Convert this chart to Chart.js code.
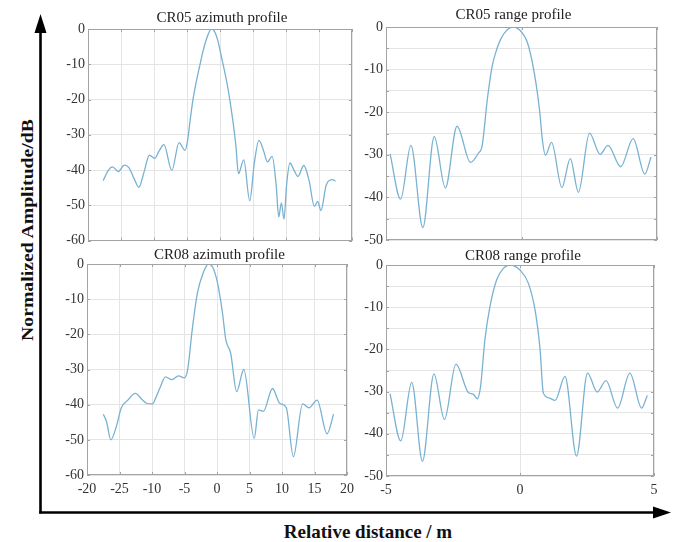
<!DOCTYPE html>
<html><head><meta charset="utf-8">
<script src="https://cdn.jsdelivr.net/npm/chart.js@4"></script>
<style>
html,body{margin:0;padding:0;background:#fff}
body{width:674px;height:542px;position:relative;overflow:hidden;font-family:"Liberation Serif","Times New Roman",serif}
canvas{position:absolute}
svg{position:absolute;left:0;top:0}
.lbl{position:absolute;font-weight:bold;color:#111;white-space:nowrap;line-height:1}
</style></head><body>
<svg width="674" height="542">
  <line x1="40.5" y1="30" x2="40.5" y2="513.5" stroke="#000" stroke-width="2.6"/>
  <polygon points="40.5,14 34.5,33 46.5,33" fill="#000"/>
  <line x1="39.2" y1="512.5" x2="656" y2="512.5" stroke="#000" stroke-width="2.6"/>
  <polygon points="671,512.5 653,506.5 653,518.5" fill="#000"/>
</svg>
<div class="lbl" id="ylab" style="font-size:17px;left:27px;top:230px;transform:translate(-50%,-50%) rotate(-90deg) scaleX(1.16);">Normalized Amplitude/dB</div>
<div class="lbl" id="xlab" style="font-size:19px;left:368px;top:531px;transform:translate(-50%,-50%);">Relative distance / m</div>
<canvas id="c1" width="316" height="252" style="left:44px;top:0px"></canvas>
<canvas id="c2" width="310" height="252" style="left:356px;top:0px"></canvas>
<canvas id="c3" width="316" height="256" style="left:44px;top:244px"></canvas>
<canvas id="c4" width="310" height="256" style="left:356px;top:244px"></canvas>
<script>
// ---- data ----
const titles = ["CR05 azimuth profile", "CR05 range profile", "CR08 azimuth profile", "CR08 range profile"];
const azTickLabels = ["-20", "-25", "-10", "-5", "0", "5", "10", "15", "20"];
const rgTickLabels = ["-5", "0", "5"];

const cr05AzX = [-17.7,-16.9,-16.3,-15.4,-14.5,-13.8,-13.0,-12.3,-11.5,-10.7,-9.9,-9.2,-8.5,-7.3,-6.2,-5.3,-4.9,-4.5,-4.1,-3.6,-3.1,-2.6,-2.1,-1.3,-0.8,-0.3,0.2,0.7,1.2,1.6,2.0,2.4,2.8,3.6,4.5,5.2,5.9,6.6,7.2,7.9,8.5,8.9,9.3,9.7,10.1,10.6,11.2,11.8,12.7,13.5,14.3,14.8,15.3,16.1,17.1,17.5];
const cr05AzY = [-43.0,-40.0,-39.1,-40.4,-38.6,-39.3,-42.5,-44.9,-40.5,-35.8,-36.7,-34.5,-32.8,-40.1,-32.2,-34.4,-31.5,-25.5,-20.1,-15.0,-10.7,-6.5,-3.1,0,-0.8,-3.5,-7.8,-12.0,-16.8,-21.5,-26.7,-33.0,-41.0,-37.1,-48.7,-38.0,-31.6,-34.5,-37.7,-36.1,-44.0,-53.3,-49.3,-53.9,-44.0,-38.0,-40.0,-41.8,-38.7,-43.0,-50.3,-48.9,-51.5,-44.2,-42.7,-43.2];

const cr05RgX = [-4.85,-4.46,-4.08,-3.64,-3.22,-2.81,-2.38,-1.88,-1.6,-1.45,-1.26,-1.08,-0.9,-0.77,-0.55,-0.33,-0.09,0.22,0.47,0.66,0.78,0.88,1.11,1.49,1.8,2.1,2.51,2.9,3.19,3.66,4.12,4.55,4.78];
const cr05RgY = [-29.8,-40.4,-27.8,-47.1,-25.7,-37.8,-23.3,-31.8,-29.7,-27.8,-16.9,-9.1,-5.0,-2.9,-0.8,0,-0.6,-3.7,-10.7,-19.2,-27.0,-30.1,-27.1,-37.7,-30.9,-38.8,-24.9,-29.9,-27.8,-32.8,-26.2,-34.5,-30.5];

const cr08AzX = [-17.49,-17.0,-16.33,-15.5,-14.72,-13.72,-12.56,-11.46,-10.85,-9.95,-9.4,-8.7,-7.94,-6.93,-5.93,-5.02,-4.52,-3.82,-3.02,-2.16,-1.31,-0.65,0.1,0.85,1.36,2.11,3.02,4.12,5.73,6.38,7.14,8.54,9.65,10.65,11.75,13.17,14.17,15.4,16.93,17.94];
const cr08AzY = [-42.7,-44.8,-50.0,-46.3,-40.9,-38.7,-36.8,-38.7,-39.6,-39.8,-38.0,-34.9,-32.1,-32.9,-31.8,-32.4,-30.1,-18.8,-8.3,-2.7,0,-0.9,-5.5,-14.0,-21.6,-25.4,-36.3,-30.0,-49.6,-41.5,-41.9,-35.4,-39.6,-40.8,-54.8,-39.8,-40.9,-38.7,-48.3,-42.7];

const cr08RgX = [-4.85,-4.45,-4.04,-3.64,-3.21,-2.82,-2.39,-1.93,-1.75,-1.59,-1.47,-1.31,-1.12,-0.87,-0.62,-0.37,0,0.31,0.56,0.75,0.87,1.09,1.31,1.68,2.11,2.52,2.88,3.21,3.64,4.1,4.54,4.75];
const cr08RgY = [-30.5,-41.7,-27.8,-46.5,-25.8,-36.6,-23.5,-30.2,-30.6,-31.7,-28.7,-17.7,-9.8,-3.5,-0.8,0,-1.2,-4.3,-10.6,-20.1,-30.3,-31.5,-32.1,-26.4,-45.3,-25.6,-30.1,-27.4,-33.9,-25.6,-33.9,-30.9];

// ---- styling ----
const LINE = '#78b2d2';
const GRID = '#e4e4e4';
const FRAME = '#a3a3a3';
const TXT = '#333';
const FONT = '"Liberation Serif","Times New Roman",serif';

const framePlugin = {
  id: 'frame',
  afterDraw(chart, args, o) {
    const {ctx, chartArea: a} = chart;
    const xs = chart.scales.x, ys = chart.scales.y;
    ctx.save();
    ctx.strokeStyle = FRAME; ctx.lineWidth = 1;
    ctx.beginPath();
    xs.ticks.forEach(t => {
      const p = Math.round(xs.getPixelForValue(t.value)) + 0.5;
      ctx.moveTo(p, a.bottom); ctx.lineTo(p, a.bottom - 3);
      ctx.moveTo(p, a.top); ctx.lineTo(p, a.top + 3);
    });
    ys.ticks.forEach(t => {
      const p = Math.round(ys.getPixelForValue(t.value)) + 0.5;
      ctx.moveTo(a.left, p); ctx.lineTo(a.left + 3, p);
      ctx.moveTo(a.right, p); ctx.lineTo(a.right - 3, p);
    });
    ctx.stroke();
    ctx.strokeRect(Math.round(a.left) + 0.5, Math.round(a.top) + 0.5, Math.round(a.right - a.left) - 1, Math.round(a.bottom - a.top) - 1);
    ctx.fillStyle = '#222';
    ctx.font = '15px ' + FONT;
    ctx.textAlign = 'center'; ctx.textBaseline = 'middle';
    ctx.fillText(o.text, (a.left + a.right) / 2 + o.dx, o.y);
    ctx.restore();
  }
};

function makeChart(id, xs, ys, c) {
  const data = xs.map((x, i) => ({x: x, y: ys[i]}));
  new Chart(document.getElementById(id), {
    type: 'line',
    data: {datasets: [{data: data, borderColor: LINE, borderWidth: 1.3, pointRadius: 0, fill: false, cubicInterpolationMode: 'monotone'}]},
    options: {
      responsive: false, animation: false, devicePixelRatio: 1,
      layout: {padding: {left: 0, right: c.pr, top: c.pt, bottom: 0}},
      plugins: {legend: {display: false}, tooltip: {enabled: false}, frame: {text: c.title, dx: c.tdx, y: c.ty}},
      scales: {
        x: {
          type: 'linear', min: c.xmin, max: c.xmax,
          afterFit: s => { s.height = c.xH; },
          grid: {color: GRID, drawTicks: false},
          border: {display: false},
          ticks: {display: c.showX, stepSize: c.xstep, padding: 6, autoSkip: false, maxRotation: 0,
                  color: TXT, font: {family: FONT, size: 14},
                  callback: (v, i) => c.xLabels[i]}
        },
        y: {
          type: 'linear', min: c.ymin, max: 0,
          afterFit: s => { s.width = c.yW; },
          grid: {color: GRID, drawTicks: false},
          border: {display: false},
          ticks: {stepSize: c.ystep, padding: 3, autoSkip: false, color: TXT, font: {family: FONT, size: 14},
                  callback: v => (v % 10 === 0 ? String(v) : '')}
        }
      }
    },
    plugins: [framePlugin]
  });
}

makeChart('c1', cr05AzX, cr05AzY, {title: titles[0], tdx: 2, ty: 18, xmin: -20, xmax: 20, xstep: 5, xLabels: azTickLabels, showX: false, ymin: -60, ystep: 10, yW: 44, xH: 10, pr: 8, pt: 29});
makeChart('c2', cr05RgX, cr05RgY, {title: titles[1], tdx: -8, ty: 15, xmin: -5, xmax: 5, xstep: 5, xLabels: rgTickLabels, showX: false, ymin: -50, ystep: 5, yW: 30, xH: 12, pr: 9, pt: 27});
makeChart('c3', cr08AzX, cr08AzY, {title: titles[2], tdx: 2.5, ty: 11, xmin: -20, xmax: 20, xstep: 5, xLabels: azTickLabels, showX: true, ymin: -60, ystep: 10, yW: 43, xH: 25, pr: 8, pt: 20});
makeChart('c4', cr08RgX, cr08RgY, {title: titles[3], tdx: 3, ty: 12, xmin: -5, xmax: 5, xstep: 5, xLabels: rgTickLabels, showX: true, ymin: -50, ystep: 5, yW: 30, xH: 24, pr: 12, pt: 21});
</script>
</body></html>
